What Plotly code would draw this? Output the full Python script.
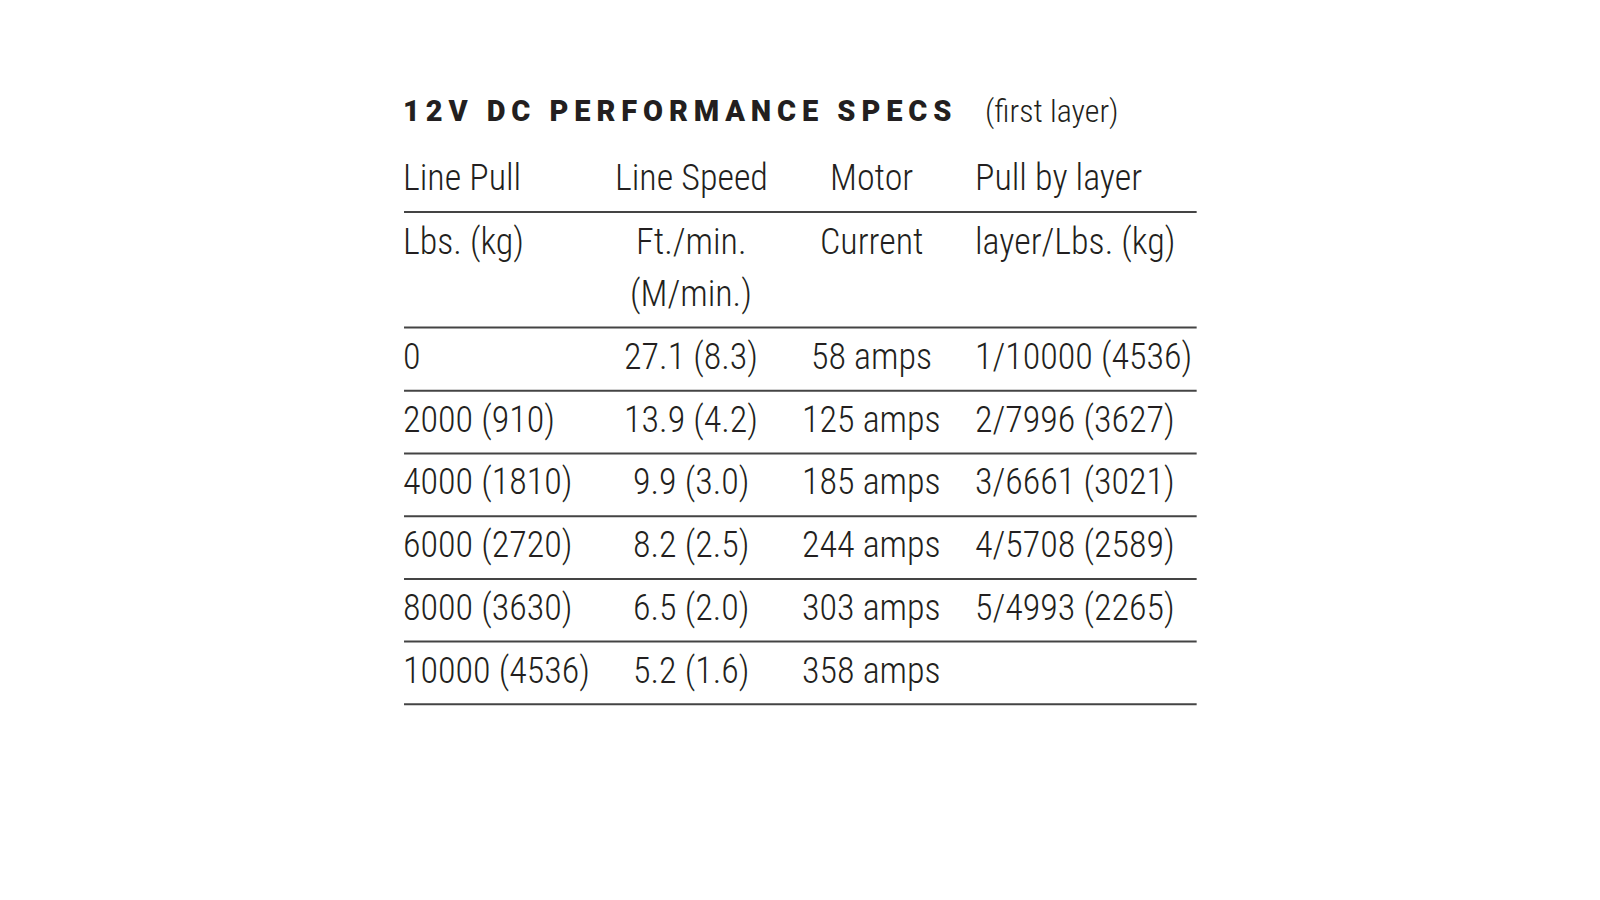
import plotly.graph_objects as go

# table content
title = "12V DC PERFORMANCE SPECS"
subtitle = "(first layer)"

header_top = ["Line Pull", "Line Speed", "Motor", "Pull by layer"]
header_bottom = [["Lbs. (kg)"], ["Ft./min.", "(M/min.)"], ["Current"], ["layer/Lbs. (kg)"]]

line_pull = ["0", "2000 (910)", "4000 (1810)", "6000 (2720)", "8000 (3630)", "10000 (4536)"]
line_speed = ["27.1 (8.3)", "13.9 (4.2)", "9.9 (3.0)", "8.2 (2.5)", "6.5 (2.0)", "5.2 (1.6)"]
motor_current = ["58 amps", "125 amps", "185 amps", "244 amps", "303 amps", "358 amps"]
pull_by_layer = ["1/10000 (4536)", "2/7996 (3627)", "3/6661 (3021)", "4/5708 (2589)", "5/4993 (2265)", ""]

# layout (pixel coordinates on hidden axes)
FONT = "Roboto Condensed, Liberation Sans, sans-serif"
TEXT_COLOR = "#231f20"
RULE_COLOR = "#444444"
SIZE = 36
left, right = 396, 1172
col_x = [394, 677, 854, 954]
col_anchor = ["left", "center", "center", "left"]
first_row_y = 350
row_h = 61.4

fig = go.Figure()
annotations = []
shapes = []


def add_text(x, y, text, anchor="left", size=SIZE, family=FONT, weight=300):
    annotations.append(dict(
        x=x, y=y, xref="x", yref="y", text=text, showarrow=False,
        xanchor=anchor, yanchor="middle", borderpad=0,
        font=dict(family=family, size=size, color=TEXT_COLOR, weight=weight),
    ))


def add_rule(y):
    shapes.append(dict(type="line", xref="x", yref="y", x0=left, x1=right, y0=y, y1=y,
                       line=dict(color=RULE_COLOR, width=2)))


# title, spaced out letters
spaced = "\u2009".join(title)
add_text(394, 109, spaced, size=29, family="Roboto, Inter, sans-serif", weight=900)
add_text(964, 109, subtitle, size=32)

# headers
for i, h in enumerate(header_top):
    add_text(col_x[i], 175, h, col_anchor[i])
add_rule(208)
for i, lines in enumerate(header_bottom):
    for j, h in enumerate(lines):
        add_text(col_x[i], 237 + j * 51, h, col_anchor[i])
add_rule(321)

# body rows
columns = [line_pull, line_speed, motor_current, pull_by_layer]
for r in range(len(line_pull)):
    y = first_row_y + r * row_h
    for c, col in enumerate(columns):
        if col[r]:
            add_text(col_x[c], y, col[r], col_anchor[c])
    add_rule(y + 33)

fig.update_layout(
    width=1600, height=900,
    margin=dict(l=0, r=0, t=0, b=0),
    paper_bgcolor="white", plot_bgcolor="white",
    xaxis=dict(range=[8.3, 1574.7], visible=False, fixedrange=True),
    yaxis=dict(range=[889.4, 8.3], visible=False, fixedrange=True),
    annotations=annotations, shapes=shapes, showlegend=False,
)

fig.write_html("out.html")
